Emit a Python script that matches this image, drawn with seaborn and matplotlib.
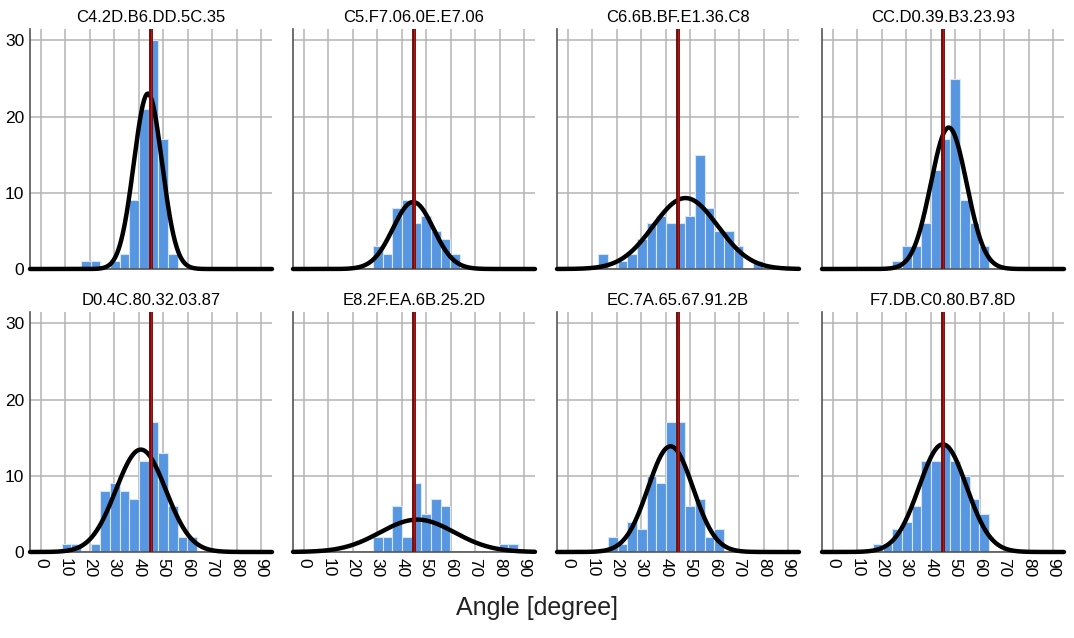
import numpy as np
import pandas as pd
import matplotlib
matplotlib.use("Agg")
import matplotlib.pyplot as plt
import seaborn as sns

sns.set_style("white")
plt.rcParams["font.family"] = ["Liberation Sans", "DejaVu Sans"]
plt.rcParams["text.color"] = "black"
plt.rcParams["xtick.color"] = "black"
plt.rcParams["ytick.color"] = "black"

# ------------------------------
# DATA
# ------------------------------
# shared histogram bins, degrees
bin_edges = [8.6, 12.55, 16.5, 20.45, 24.4, 28.35, 32.3, 36.25, 40.2, 44.15, 48.1,
             52.05, 56.0, 59.95, 63.9, 67.85, 71.8, 75.75, 79.7, 83.65, 87.6]

panel_titles = ["C4.2D.B6.DD.5C.35", "C5.F7.06.0E.E7.06", "C6.6B.BF.E1.36.C8", "CC.D0.39.B3.23.93",
                "D0.4C.80.32.03.87", "E8.2F.EA.6B.25.2D", "EC.7A.65.67.91.2B", "F7.DB.C0.80.B7.8D"]

counts_c4 = [0, 0, 1, 1, 0, 1, 2, 9, 21, 30, 17, 2, 0, 0, 0, 0, 0, 0, 0, 0]
counts_c5 = [0, 0, 0, 0, 0, 3, 2, 8, 9, 6, 7, 5, 4, 2, 0, 0, 0, 0, 0, 0]
counts_c6 = [0, 2, 0, 1, 2, 4, 6, 7, 6, 6, 7, 15, 8, 5, 5, 3, 0, 1, 0, 0]
counts_cc = [0, 0, 0, 0, 1, 3, 3, 6, 13, 17, 25, 9, 6, 3, 0, 0, 0, 0, 0, 0]
counts_d0 = [1, 1, 0, 1, 8, 9, 8, 7, 12, 17, 13, 6, 2, 2, 0, 0, 0, 0, 0, 0]
counts_e8 = [0, 0, 0, 0, 0, 2, 2, 6, 2, 9, 5, 7, 6, 0, 0, 0, 0, 0, 1, 1]
counts_ec = [0, 0, 2, 1, 4, 3, 10, 9, 17, 17, 6, 7, 2, 3, 0, 0, 0, 0, 0, 0]
counts_f7 = [0, 0, 1, 1, 3, 4, 6, 12, 12, 14, 12, 10, 7, 5, 0, 0, 0, 0, 0, 0]
all_counts = [counts_c4, counts_c5, counts_c6, counts_cc,
              counts_d0, counts_e8, counts_ec, counts_f7]

# fitted normal curve per panel
fit_mean = [43.8, 44.7, 48.1, 47.4, 40.9, 46.4, 42.0, 45.0]
fit_sd = [5.75, 8.25, 13.2, 7.3, 10.2, 15.2, 9.2, 9.7]

ref_angle = 45
x_ticks = [0, 10, 20, 30, 40, 50, 60, 70, 80, 90]
y_ticks = [0, 10, 20, 30]
x_label = "Angle [degree]"

BAR = "#5796e0"
BAR_EDGE = "#d6e6f8"
GRID = "#b4b4b4"
RED_DARK = "#6e0808"
RED_CORE = "#b01818"

# ------------------------------
# FIGURE
# ------------------------------
W, H = 1074, 638
fig = plt.figure(figsize=(W / 100, H / 100), dpi=100)

lefts_px = [30, 293, 557, 822]
tops_px = [29, 312]
ax_w, ax_h = 242, 240

edges = np.array(bin_edges)
centers = ((edges[:-1] + edges[1:]) / 2).tolist()
bin_w = bin_edges[1] - bin_edges[0]
xlim = (-4.4, 94.5)
curve_x = np.linspace(xlim[0], xlim[1], 400)

for i, title in enumerate(panel_titles):
    row, col = divmod(i, 4)
    ax = fig.add_axes([lefts_px[col] / W, 1 - (tops_px[row] + ax_h) / H, ax_w / W, ax_h / H])

    df = pd.DataFrame({"angle": centers, "n": all_counts[i]})
    sns.histplot(data=df, x="angle", weights="n", bins=list(bin_edges), ax=ax,
                 color=BAR, edgecolor=BAR_EDGE, linewidth=0.8, alpha=1, zorder=2)

    # normal fit, scaled to counts
    n_total = df["n"].sum()
    fit = pd.DataFrame({
        "angle": curve_x,
        "y": n_total * bin_w * np.exp(-0.5 * ((curve_x - fit_mean[i]) / fit_sd[i]) ** 2)
             / (fit_sd[i] * np.sqrt(2 * np.pi)),
    })
    sns.lineplot(data=fit, x="angle", y="y", ax=ax, color="black", lw=3.2,
                 zorder=4, clip_on=False)

    # reference angle
    ax.axvline(ref_angle, color=RED_DARK, lw=2.8, zorder=5)
    ax.axvline(ref_angle, color=RED_CORE, lw=1.0, zorder=6)

    ax.set_xlim(*xlim)
    ax.set_ylim(0, 31.5)
    ax.set_xticks(x_ticks)
    ax.set_yticks(y_ticks)
    ax.grid(True, color=GRID, lw=1.1)
    ax.set_axisbelow(True)
    ax.set_xlabel("")
    ax.set_ylabel("")
    ax.set_title(title, fontsize=12, pad=5, color="black")

    for s in ["top", "right"]:
        ax.spines[s].set_visible(False)
    for s in ["left", "bottom"]:
        ax.spines[s].set_color("#555555")
        ax.spines[s].set_linewidth(1.2)

    ax.tick_params(length=0, labelsize=12.5, pad=4)
    if col != 0:
        ax.set_yticklabels([])
    if row == 1:
        ax.set_xticklabels([str(v) for v in x_ticks], rotation=-90)
    else:
        ax.set_xticklabels([])

fig.text(0.5, 1 - 608 / H, x_label, ha="center", va="center", fontsize=18, color="#222222")

fig.savefig("out.png", dpi=100, facecolor="white")
